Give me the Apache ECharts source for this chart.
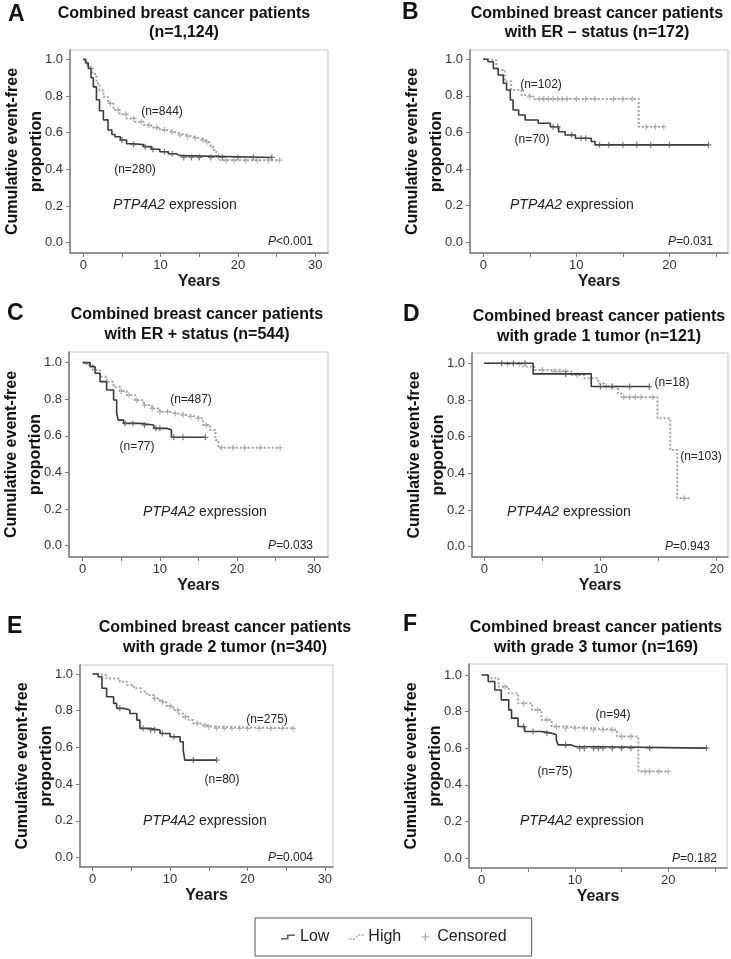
<!DOCTYPE html>
<html><head><meta charset="utf-8">
<script src="https://cdn.jsdelivr.net/npm/echarts@6/dist/echarts.min.js"></script>
<style>html,body{margin:0;padding:0;background:#fff}#c{width:731px;height:959px}</style>
</head><body><div id="c"></div>
<script>
// ---------- DATA (Kaplan-Meier step points: [years, proportion]) ----------
const lowA = [[0,1],[0.3,0.98],[0.65,0.95],[1.0,0.9],[1.3,0.85],[1.7,0.78],[2.1,0.72],[2.6,0.67],[3.2,0.615],[3.7,0.59],[4.1,0.578],[4.8,0.56],[5.6,0.54],[6.5,0.535],[7.8,0.524],[8.8,0.51],[9.9,0.496],[11,0.485],[12,0.475],[12.5,0.465],[24.4,0.465]];
const highA = [[0,1],[0.4,0.98],[0.65,0.96],[1.2,0.92],[1.7,0.87],[2.1,0.83],[2.6,0.796],[3.2,0.76],[3.9,0.724],[4.7,0.70],[5.6,0.678],[6.7,0.66],[7.8,0.642],[8.8,0.628],[9.9,0.615],[10.8,0.605],[11.6,0.596],[12.5,0.587],[13.4,0.578],[14.3,0.57],[15.1,0.56],[15.7,0.55],[16.2,0.542],[16.5,0.525],[16.8,0.505],[17.2,0.469],[17.7,0.45],[25.4,0.45]];
const lowB = [[0,1],[0.5,0.987],[1.08,0.95],[1.6,0.914],[2.15,0.869],[2.5,0.832],[2.9,0.777],[3.2,0.723],[3.8,0.695],[4.5,0.668],[5.9,0.65],[7.2,0.631],[8.1,0.604],[8.8,0.586],[9.9,0.568],[11.6,0.55],[12.0,0.532],[24.2,0.532]];
const highB = [[0,1],[0.5,0.996],[1.4,0.942],[2.3,0.878],[3.0,0.832],[4.1,0.805],[4.8,0.796],[5.4,0.783],[16.7,0.631],[19.4,0.631]];
const lowC = [[0,1],[0.95,0.978],[1.6,0.942],[2.25,0.896],[3.1,0.85],[4.0,0.796],[4.4,0.723],[4.6,0.686],[5.3,0.668],[7.4,0.659],[9.2,0.641],[10.9,0.632],[11.5,0.592],[15.9,0.592]];
const highC = [[0,1],[0.5,0.987],[1.3,0.96],[2.25,0.923],[3.1,0.895],[4.0,0.868],[4.8,0.845],[5.7,0.823],[6.8,0.795],[7.9,0.768],[9,0.75],[10,0.732],[11.1,0.722],[12.2,0.714],[13.5,0.705],[14.8,0.695],[15.6,0.659],[16.5,0.632],[17.2,0.577],[17.6,0.535],[25.6,0.535]];
const lowD = [[0,1],[4.2,0.942],[9.2,0.873],[14.2,0.873]];
const highD = [[0,1],[1.8,0.996],[3.2,0.982],[4.3,0.964],[5.8,0.955],[7.5,0.936],[8.6,0.918],[9.8,0.89],[10.3,0.873],[11.5,0.836],[11.8,0.815],[14.9,0.70],[16.0,0.527],[16.6,0.264],[17.8,0.264]];
const lowE = [[0,1],[0.7,0.985],[1.2,0.922],[1.8,0.876],[2.7,0.84],[3.1,0.813],[4.0,0.804],[4.8,0.785],[5.7,0.749],[6.1,0.704],[7.2,0.695],[8.7,0.676],[10,0.658],[11.3,0.631],[11.7,0.585],[11.9,0.531],[16.0,0.531]];
const highE = [[0,1],[0.5,0.995],[1.8,0.976],[3.5,0.958],[4.4,0.94],[5.3,0.922],[6.2,0.903],[7,0.885],[7.9,0.867],[8.7,0.849],[9.5,0.826],[10.4,0.804],[11.1,0.785],[11.7,0.767],[12.4,0.749],[13,0.731],[14,0.72],[14.7,0.713],[15.6,0.704],[25.9,0.704]];
const lowF = [[0,1],[0.7,0.964],[1.4,0.918],[2.1,0.864],[2.9,0.809],[3.2,0.764],[3.9,0.718],[4.6,0.691],[6.4,0.682],[7.5,0.673],[8.0,0.645],[8.2,0.618],[9.6,0.609],[10,0.6],[24.1,0.6]];
const highF = [[0,1],[0.7,0.982],[1.8,0.936],[2.9,0.9],[3.9,0.845],[5.4,0.809],[6.4,0.755],[7.5,0.718],[8.9,0.709],[11.8,0.7],[14.5,0.664],[16.8,0.473],[20,0.473]];

// censored times (years)
const lowCensA = [5,6.5,8,9,10.5,11.5,13,14,15,16.5,18,20,22,24.4];
const highCensA = [3.5,4.5,5.5,6.5,7.5,8.5,9.5,10.5,11.5,12.5,13.5,14.5,15.5,16,17.5,18.5,19.5,21,22.5,24,25.4];
const lowCensB = [7.5,8,9.5,10.5,11,12.5,13.5,15,16.5,18,20,24.2];
const highCensB = [5,6,6.5,7,7.5,8,8.5,9,10,11,12,14,15,16,17.5,18.5,19.4];
const lowCensC = [5.5,6.5,8,9.5,10,11.8,13,15.9];
const highCensC = [5,6,7,8,9,10,11,12,13,14,15,16,18,19.5,21,23,25.6];
const lowCensD = [1.5,2.5,3.5,7,10,11,12.5,14.2];
const highCensD = [2,3,5,6,6.5,7,8,10.5,11,12,12.5,13,13.5,14.5,17.2];
const lowCensE = [3.5,6.5,7.5,8,9,10.5,13,16];
const highCensE = [8,9,10,11,12,13.5,14.5,15,16,17,18,19,20,21.5,23,24.5,25.9];
const lowCensF = [4.5,5.5,7,9,10.5,11,12,12.5,13,14,15,16,18,24.1];
const highCensF = [2.5,4.5,6,7,8,9,10,11,12,13,14,15,16,17.5,18,19,20];

// tick labels
const yTickLabels = [0, 0.2, 0.4, 0.6, 0.8, 1.0];
const xLabels30 = [0, 10, 20, 30];
const xLabels20 = [0, 10, 20];
const xTicks30 = [0, 5, 10, 15, 20, 25, 30];
const xTicks25 = [0, 5, 10, 15, 20, 25];
const xTicks20 = [0, 5, 10, 15, 20];

// ---------- LAYOUT ----------
const FONT = '"Liberation Sans", Arial, Helvetica, sans-serif';
const panels = [
  {letter:'A', L:[8,15], title:['Combined breast cancer patients','(n=1,124)'], tc:[184,14,33],
   low:lowA, high:highA, lowCens:lowCensA, highCens:highCensA,
   grid:{left:70,top:50,width:258,height:203}, xr:[-1.72,31.66], yr:[-0.056,1.051], xl:xLabels30, xt:xTicks30,
   notes:[['(n=844)',162,112,'center'],['(n=280)',135,170,'center']], expr:[113,205], p:['<0.001',313,242]},
  {letter:'B', L:[402,13], title:['Combined breast cancer patients','with ER \u2013 status (n=172)'], tc:[597,14,33],
   low:lowB, high:highB, lowCens:lowCensB, highCens:highCensB,
   grid:{left:470,top:50,width:258,height:203}, xr:[-1.43,26.3], yr:[-0.06,1.051], xl:xLabels20, xt:xTicks25,
   notes:[['(n=102)',541,85,'center'],['(n=70)',532,140,'center']], expr:[510,205], p:['=0.031',713,242]},
  {letter:'C', L:[7,314], title:['Combined breast cancer patients','with ER + status (n=544)'], tc:[197,315,335],
   low:lowC, high:highC, lowCens:lowCensC, highCens:highCensC,
   grid:{left:69,top:352,width:259,height:205}, xr:[-1.78,31.8], yr:[-0.062,1.058], xl:xLabels30, xt:xTicks30,
   notes:[['(n=487)',191,400,'center'],['(n=77)',137,447,'center']], expr:[143,512], p:['=0.033',313,546]},
  {letter:'D', L:[403,315], title:['Combined breast cancer patients','with grade 1 tumor (n=121)'], tc:[599,317,337],
   low:lowD, high:highD, lowCens:lowCensD, highCens:highCensD,
   grid:{left:472,top:353,width:256,height:204}, xr:[-1.06,20.97], yr:[-0.056,1.056], xl:xLabels20, xt:xTicks20,
   notes:[['(n=18)',672,383,'center'],['(n=103)',701,457,'center']], expr:[507,512], p:['=0.943',710,547]},
  {letter:'E', L:[7,627], title:['Combined breast cancer patients','with grade 2 tumor (n=340)'], tc:[225,628,648],
   low:lowE, high:highE, lowCens:lowCensE, highCens:highCensE,
   grid:{left:80,top:665,width:253,height:202}, xr:[-1.64,31.05], yr:[-0.051,1.049], xl:xLabels30, xt:xTicks30,
   notes:[['(n=275)',267,720,'center'],['(n=80)',222,780,'center']], expr:[143,821], p:['=0.004',313,858]},
  {letter:'F', L:[403,625], title:['Combined breast cancer patients','with grade 3 tumor (n=169)'], tc:[596,628,648],
   low:lowF, high:highF, lowCens:lowCensF, highCens:highCensF,
   grid:{left:469,top:664,width:258,height:204}, xr:[-1.36,26.3], yr:[-0.055,1.06], xl:xLabels20, xt:xTicks25,
   notes:[['(n=94)',613,715,'center'],['(n=75)',555,772,'center']], expr:[520,821], p:['=0.182',717,859]}
];

function survAt(curve, t) {
  let s = curve[0][1];
  for (const p of curve) { if (p[0] <= t) s = p[1]; }
  return s;
}

const LOW_COLOR = '#3a3a3a';
const HIGH_COLOR = '#a3a3a3';
const PLUS = 'path://M2,0 L3,0 L3,2 L5,2 L5,3 L3,3 L3,5 L2,5 L2,3 L0,3 L0,2 L2,2 Z';
const LOW_ICON = 'path://M0,4.5 L6,4.5 L6,1 L14,1 L14,2.6 L7.6,2.6 L7.6,6.1 L0,6.1 Z';
const HIGH_ICON = 'path://M0,5 L2,5 L2,6.5 L0,6.5 Z M3.5,5 L5.5,5 L5.5,6.5 L3.5,6.5 Z M6.5,2.5 L8,2.5 L8,4 L6.5,4 Z M9,1 L11,1 L11,2.5 L9,2.5 Z M12.5,1 L14,1 L14,2.5 L12.5,2.5 Z';
const PLUS_ICON = 'path://M6,0 L8,0 L8,6 L14,6 L14,8 L8,8 L8,14 L6,14 L6,8 L0,8 L0,6 L6,6 Z';

const grids = [], xAxes = [], yAxes = [], series = [], graphics = [];
const txt = (text, x, y, opts) => Object.assign({
  type:'text', x:x, y:y, silent:true,
  style:Object.assign({text:text, fill:'#1a1a1a', fontFamily:FONT, fontSize:13,
    align:'center', textAlign:'center', verticalAlign:'middle', textVerticalAlign:'middle'}, opts || {})
});

// legend-only series (empty)
series.push({name:'Low', type:'scatter', data:[], xAxisIndex:0, yAxisIndex:0, itemStyle:{color:LOW_COLOR}});
series.push({name:'High', type:'scatter', data:[], xAxisIndex:0, yAxisIndex:0, itemStyle:{color:HIGH_COLOR}});
series.push({name:'Censored', type:'scatter', data:[], xAxisIndex:0, yAxisIndex:0, itemStyle:{color:'#8a8a8a'}});

panels.forEach((p, i) => {
  grids.push(Object.assign({show:true, borderColor:'#c4c4c4', borderWidth:1, containLabel:false}, p.grid));
  xAxes.push({
    gridIndex:i, type:'value', min:p.xr[0], max:p.xr[1],
    axisLine:{show:true, onZero:false, lineStyle:{color:'#7a7a7a', width:1.5}},
    axisTick:{show:true, customValues:p.xt, length:4, lineStyle:{color:'#7a7a7a'}},
    axisLabel:{customValues:p.xl, fontSize:13, color:'#333', fontFamily:FONT, margin:6},
    splitLine:{show:false},
    name:'Years', nameLocation:'middle', nameGap:21,
    nameTextStyle:{fontSize:16, fontWeight:'bold', color:'#1a1a1a', fontFamily:FONT}
  });
  yAxes.push({
    gridIndex:i, type:'value', min:p.yr[0], max:p.yr[1],
    axisLine:{show:true, onZero:false, lineStyle:{color:'#7a7a7a', width:1.5}},
    axisTick:{show:true, customValues:yTickLabels, length:4, lineStyle:{color:'#7a7a7a'}},
    axisLabel:{customValues:yTickLabels, fontSize:13, color:'#333', fontFamily:FONT, margin:7,
      formatter:v => Number(v).toFixed(1)},
    splitLine:{show:false}
  });
  series.push({name:'High', type:'line', step:'end', data:p.high, xAxisIndex:i, yAxisIndex:i,
    showSymbol:false, symbol:'none', lineStyle:{color:HIGH_COLOR, width:2, type:'dotted'},
    itemStyle:{color:HIGH_COLOR}, z:2, silent:true});
  series.push({name:'Censored', type:'scatter', xAxisIndex:i, yAxisIndex:i,
    data:p.highCens.map(t => [t, survAt(p.high, t)]), symbol:PLUS, symbolSize:6,
    itemStyle:{color:HIGH_COLOR}, z:2, silent:true});
  series.push({name:'Low', type:'line', step:'end', data:p.low, xAxisIndex:i, yAxisIndex:i,
    showSymbol:false, symbol:'none', lineStyle:{color:LOW_COLOR, width:1.6},
    itemStyle:{color:LOW_COLOR}, z:3, silent:true});
  series.push({name:'Censored', type:'scatter', xAxisIndex:i, yAxisIndex:i,
    data:p.lowCens.map(t => [t, survAt(p.low, t)]), symbol:PLUS, symbolSize:6,
    itemStyle:{color:'#555'}, z:3, silent:true});

  // panel letter and title
  graphics.push(txt(p.letter, p.L[0], p.L[1], {fontSize:23, fontWeight:'bold', align:'left', textAlign:'left', fill:'#111'}));
  graphics.push(txt(p.title[0], p.tc[0], p.tc[1], {fontSize:16, fontWeight:'bold', fill:'#111'}));
  graphics.push(txt(p.title[1], p.tc[0], p.tc[2], {fontSize:16, fontWeight:'bold', fill:'#111'}));
  // y-axis name (two rotated lines)
  const cy = p.grid.top + p.grid.height / 2;
  graphics.push(Object.assign(txt('Cumulative event-free', p.grid.left - 57, cy, {fontSize:16, fontWeight:'bold', fill:'#111'}), {rotation:Math.PI/2}));
  graphics.push(Object.assign(txt('proportion', p.grid.left - 33, cy, {fontSize:16, fontWeight:'bold', fill:'#111'}), {rotation:Math.PI/2}));
  // annotations
  p.notes.forEach(n => graphics.push(txt(n[0], n[1], n[2], {fontSize:12, fill:'#222', align:n[3], textAlign:n[3]})));
  graphics.push({type:'text', x:p.expr[0], y:p.expr[1], silent:true,
    style:{text:'{i|PTP4A2}{n| expression}', fill:'#222', fontFamily:FONT, fontSize:14,
      align:'left', textAlign:'left', verticalAlign:'middle', textVerticalAlign:'middle',
      rich:{i:{fontStyle:'italic', fontSize:14, fontFamily:FONT, fill:'#222'}, n:{fontSize:14, fontFamily:FONT, fill:'#222'}}}});
  graphics.push({type:'text', x:p.p[1], y:p.p[2], silent:true,
    style:{text:'{i|P}{n|' + p.p[0] + '}', fill:'#222', fontFamily:FONT, fontSize:12,
      align:'right', textAlign:'right', verticalAlign:'middle', textVerticalAlign:'middle',
      rich:{i:{fontStyle:'italic', fontSize:12, fontFamily:FONT, fill:'#222'}, n:{fontSize:12, fontFamily:FONT, fill:'#222'}}}});
});

const chart = echarts.init(document.getElementById('c'), null, {renderer:'canvas'});
chart.setOption({
  animation:false,
  backgroundColor:'#fff',
  textStyle:{fontFamily:FONT},
  grid:grids, xAxis:xAxes, yAxis:yAxes, series:series, graphic:graphics,
  legend:{
    left:255, top:918, orient:'horizontal', selectedMode:false,
    padding:[11,25,11,26], itemGap:20, itemWidth:14, itemHeight:8,
    borderColor:'#555', borderWidth:1,
    textStyle:{fontSize:16, fontFamily:FONT, color:'#222'},
    data:[
      {name:'Low', icon:LOW_ICON, itemStyle:{color:LOW_COLOR}},
      {name:'High', icon:HIGH_ICON, itemStyle:{color:'#888'}},
      {name:'Censored', icon:PLUS_ICON, itemStyle:{color:'#8a8a8a'}}
    ]
  }
});
</script></body></html>
